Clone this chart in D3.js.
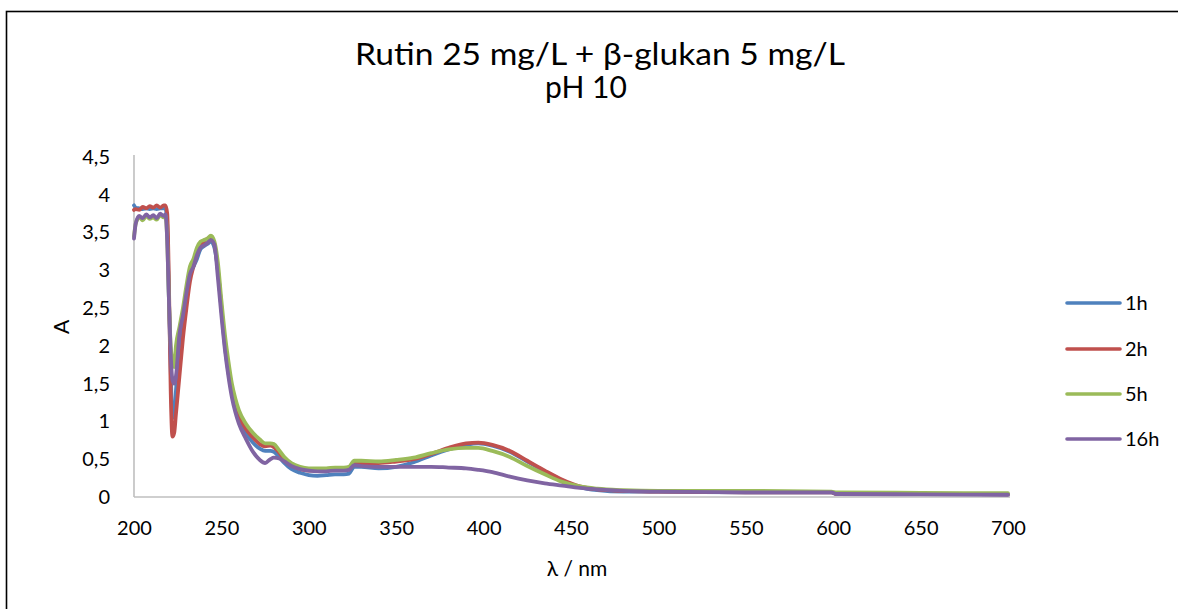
<!DOCTYPE html>
<html><head><meta charset="utf-8">
<script src="https://cdn.jsdelivr.net/npm/d3@7"></script>
<style>html,body{margin:0;padding:0;background:#fff;overflow:hidden}</style>
</head><body>
<svg id="c" width="1178" height="609"></svg>
<script>
const titleLines = ["Rutin 25 mg/L + β-glukan 5 mg/L", "pH 10"];
const seriesNames = ["1h", "2h", "5h", "16h"];
const seriesColors = ["#4F81BD", "#C0504D", "#9BBB59", "#8064A2"];
const xTicks = [200, 250, 300, 350, 400, 450, 500, 550, 600, 650, 700];
const yTicks = [0, 0.5, 1, 1.5, 2, 2.5, 3, 3.5, 4, 4.5];
const wavelength = [200,201,203,205,207,209,211,213,215,217,218,219,220,221,222,223,224,226,228,230,232,234,236,238,240,242,244,246,248,250,252,254,256,258,260,264,268,272,275,278,280,283,286,290,295,300,305,310,315,320,323,326,330,340,350,360,370,380,390,397,405,415,425,435,445,455,465,480,500,550,599,602,650,700];
const a1h  = [3.86,3.83,3.82,3.81,3.82,3.81,3.82,3.81,3.82,3.82,3.82,3.6,2.6,1.7,1.05,1.05,1.4,2.05,2.4,2.7,2.95,3.05,3.15,3.28,3.32,3.35,3.38,3.30,3.0,2.5,2.0,1.65,1.38,1.18,1.03,0.85,0.72,0.64,0.61,0.61,0.60,0.53,0.45,0.37,0.32,0.29,0.28,0.29,0.30,0.30,0.31,0.40,0.40,0.38,0.40,0.46,0.55,0.63,0.69,0.71,0.68,0.60,0.47,0.34,0.22,0.13,0.09,0.07,0.07,0.06,0.06,0.04,0.04,0.035];
const a2h  = [3.80,3.81,3.80,3.84,3.82,3.85,3.83,3.86,3.83,3.86,3.86,3.75,2.8,1.4,0.8,0.85,1.1,1.6,2.1,2.5,2.85,3.05,3.2,3.32,3.38,3.42,3.44,3.35,3.0,2.5,2.05,1.7,1.42,1.22,1.08,0.9,0.79,0.70,0.67,0.68,0.66,0.59,0.50,0.42,0.37,0.35,0.35,0.35,0.36,0.36,0.37,0.45,0.45,0.45,0.47,0.50,0.57,0.65,0.71,0.72,0.69,0.61,0.48,0.35,0.23,0.14,0.10,0.08,0.07,0.06,0.06,0.04,0.04,0.035];
const a5h  = [3.45,3.62,3.70,3.66,3.72,3.68,3.70,3.67,3.73,3.70,3.72,3.4,2.6,2.0,1.8,1.72,2.0,2.25,2.5,2.8,3.05,3.15,3.3,3.38,3.4,3.42,3.46,3.38,3.1,2.6,2.15,1.8,1.5,1.3,1.15,0.97,0.85,0.76,0.71,0.71,0.70,0.62,0.53,0.45,0.40,0.38,0.38,0.38,0.39,0.39,0.40,0.48,0.48,0.47,0.49,0.52,0.58,0.63,0.65,0.65,0.61,0.53,0.41,0.30,0.20,0.14,0.11,0.09,0.08,0.08,0.07,0.06,0.055,0.05];
const a16h = [3.42,3.62,3.72,3.69,3.74,3.70,3.73,3.69,3.75,3.72,3.74,3.4,2.6,1.9,1.55,1.5,1.6,2.15,2.4,2.7,2.95,3.05,3.2,3.3,3.33,3.36,3.40,3.34,2.9,2.4,1.95,1.6,1.32,1.12,0.97,0.77,0.6,0.49,0.45,0.50,0.52,0.51,0.47,0.41,0.37,0.35,0.34,0.34,0.35,0.35,0.36,0.42,0.41,0.40,0.40,0.40,0.40,0.39,0.38,0.36,0.33,0.27,0.22,0.18,0.15,0.12,0.10,0.08,0.07,0.06,0.06,0.04,0.035,0.03];
const seriesValues = [a1h, a2h, a5h, a16h];

const svg = d3.select("#c");
const font = "Lato, 'Open Sans', sans-serif";

// outer chart border (only top/left visible in frame)
svg.append("rect").attr("x", 6.5).attr("y", 11.5).attr("width", 1300).attr("height", 800)
  .attr("fill", "#fff").attr("stroke", "#000").attr("stroke-width", 1.6);

const x = d3.scaleLinear().domain([200, 700]).range([134, 1008]);
const y = d3.scaleLinear().domain([0, 4.5]).range([497, 157]);

// title
svg.append("text").attr("x", 600).attr("y", 65).attr("text-anchor", "middle")
  .attr("font-family", font).attr("font-size", 30).attr("fill", "#000")
  .attr("textLength", 490).attr("lengthAdjust", "spacingAndGlyphs").text(titleLines[0]);
svg.append("text").attr("x", 586).attr("y", 98).attr("text-anchor", "middle")
  .attr("font-family", font).attr("font-size", 30).attr("fill", "#000").text(titleLines[1]);

// axes
const xAxis = d3.axisBottom(x).tickValues(xTicks).tickSize(0).tickPadding(24).tickFormat(d3.format("d"));
const gx = svg.append("g").attr("transform", "translate(0,497)").call(xAxis);
gx.select(".domain").attr("stroke", "#BFBFBF").attr("stroke-width", 1.6).attr("d", "M134,0H1010");
gx.selectAll("text").attr("font-family", font).attr("font-size", 20).attr("fill", "#000");

const fmt = d => String(d).replace(".", ",");
const yAxis = d3.axisLeft(y).tickValues(yTicks).tickSize(0).tickPadding(24).tickFormat(fmt);
const gy = svg.append("g").attr("transform", "translate(134,0)").call(yAxis);
gy.select(".domain").attr("stroke", "#BFBFBF").attr("stroke-width", 1.6).attr("d", "M0,155V497");
gy.selectAll("text").attr("font-family", font).attr("font-size", 20).attr("fill", "#000");

// axis titles
svg.append("text").attr("transform", "translate(69,327) rotate(-90)").attr("text-anchor", "middle")
  .attr("font-family", font).attr("font-size", 21).attr("fill", "#000").text("A");
svg.append("text").attr("x", 577).attr("y", 576).attr("text-anchor", "middle")
  .attr("font-family", font).attr("font-size", 21).attr("fill", "#000").text("λ / nm");

// lines
const line = d3.line().x(d => x(d[0])).y(d => y(d[1])).curve(d3.curveMonotoneX);
seriesValues.forEach((vals, i) => {
  const pts = wavelength.map((w, k) => [w, vals[k]]);
  svg.append("path").datum(pts).attr("d", line).attr("fill", "none")
    .attr("stroke", seriesColors[i]).attr("stroke-width", 3.8)
    .attr("stroke-linejoin", "round").attr("stroke-linecap", "round");
});

// legend
const legY = [303, 349, 394, 439];
seriesNames.forEach((n, i) => {
  svg.append("line").attr("x1", 1067).attr("x2", 1120).attr("y1", legY[i]).attr("y2", legY[i])
    .attr("stroke", seriesColors[i]).attr("stroke-width", 3.6).attr("stroke-linecap", "round");
  svg.append("text").attr("x", 1125).attr("y", legY[i] + 7).attr("font-family", font)
    .attr("font-size", 20).attr("fill", "#000").text(n);
});
</script>
</body></html>
